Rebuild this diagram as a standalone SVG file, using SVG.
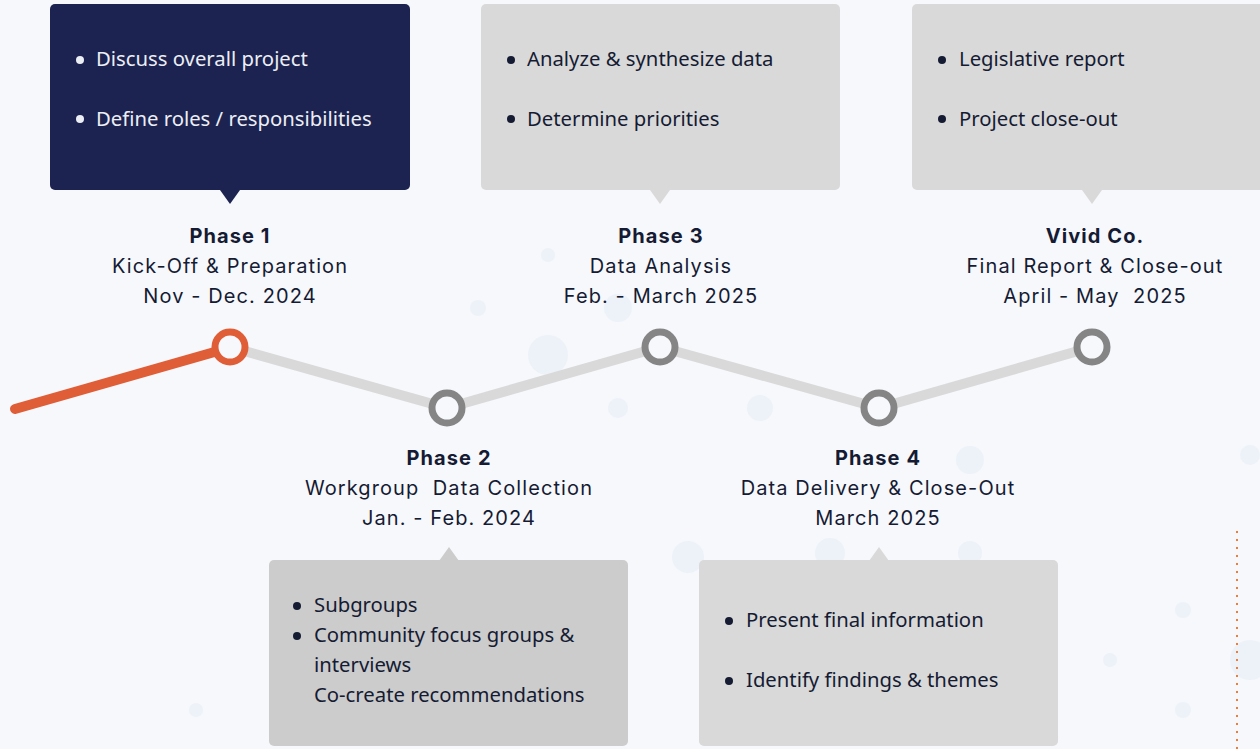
<svg xmlns="http://www.w3.org/2000/svg" width="1260" height="749" viewBox="0 0 1260 749">
<style>
.box-dark{fill:#1c2350}
.box-light{fill:#d9d9d9}
.box-mid{fill:#cccccc}
.bt{font-family:"Noto Sans","Liberation Sans",sans-serif;font-size:20.3px;fill:#151b33}
.bt-w{font-family:"Noto Sans","Liberation Sans",sans-serif;font-size:20.3px;fill:#eceef5}
.h{font-family:Inter,"Liberation Sans",sans-serif;font-size:20px;font-weight:700;fill:#151b33;text-anchor:middle;letter-spacing:1.1px}
.s{font-family:Inter,"Liberation Sans",sans-serif;font-size:20px;fill:#151b33;text-anchor:middle;letter-spacing:1.1px}
.node{fill:#f7f8fc;stroke:#858585;stroke-width:7}
.bub{fill:#e8eff8;opacity:0.7}
</style>
<rect width="1260" height="749" fill="#f7f8fc"/>
<g id="bubbles">
<circle class="bub" cx="548" cy="355" r="20"/>
<circle class="bub" cx="618" cy="408" r="10"/>
<circle class="bub" cx="760" cy="408" r="13"/>
<circle class="bub" cx="970" cy="460" r="14"/>
<circle class="bub" cx="688" cy="557" r="16"/>
<circle class="bub" cx="830" cy="553" r="15"/>
<circle class="bub" cx="478" cy="308" r="8"/>
<circle class="bub" cx="618" cy="308" r="14"/>
<circle class="bub" cx="548" cy="255" r="7"/>
<circle class="bub" cx="1250" cy="455" r="10"/>
<circle class="bub" cx="1183" cy="610" r="8"/>
<circle class="bub" cx="1250" cy="660" r="20"/>
<circle class="bub" cx="1183" cy="710" r="8"/>
<circle class="bub" cx="196" cy="710" r="7"/>
<circle class="bub" cx="970" cy="553" r="12"/>
<circle class="bub" cx="1110" cy="660" r="7"/>
</g>
<g id="connectors">
<polyline points="230,347 447,408 660,347 879,408 1092,347" fill="none" stroke="#d9d9d9" stroke-width="10" stroke-linejoin="round"/>
<line x1="15" y1="409" x2="225" y2="349" stroke="#e05e37" stroke-width="10" stroke-linecap="round"/>
<line x1="1237" y1="531" x2="1237" y2="749" stroke="#f07b3a" stroke-width="2" stroke-dasharray="2 6"/>
</g>
<g id="box1">
<rect class="box-dark" x="50" y="4" width="360" height="186" rx="5"/>
<polygon class="box-dark" points="220,190 240,190 230,204"/>
<circle cx="80" cy="60" r="4" fill="#eceef5"/>
<text class="bt-w" x="96" y="66">Discuss overall project</text>
<circle cx="80" cy="119" r="4" fill="#eceef5"/>
<text class="bt-w" x="96" y="126">Define roles / responsibilities</text>
</g>
<g id="box3">
<rect class="box-light" x="481" y="4" width="359" height="186" rx="5"/>
<polygon class="box-light" points="650,190 670,190 660,204"/>
<circle cx="511" cy="60" r="4" fill="#151b33"/>
<text class="bt" x="527" y="66">Analyze &amp; synthesize data</text>
<circle cx="511" cy="119" r="4" fill="#151b33"/>
<text class="bt" x="527" y="126">Determine priorities</text>
</g>
<g id="box5">
<rect class="box-light" x="912" y="4" width="360" height="186" rx="5"/>
<polygon class="box-light" points="1082,190 1102,190 1092,204"/>
<circle cx="942" cy="60" r="4" fill="#151b33"/>
<text class="bt" x="959" y="66">Legislative report</text>
<circle cx="942" cy="119" r="4" fill="#151b33"/>
<text class="bt" x="959" y="126">Project close-out</text>
</g>
<g id="box2">
<rect class="box-mid" x="269" y="560" width="359" height="186" rx="5"/>
<polygon class="box-mid" points="439,561 459,561 449,547"/>
<circle cx="297" cy="606" r="4" fill="#151b33"/>
<text class="bt" x="314" y="612">Subgroups</text>
<circle cx="297" cy="636" r="4" fill="#151b33"/>
<text class="bt" x="314" y="642">Community focus groups &amp;</text>
<text class="bt" x="314" y="672">interviews</text>
<text class="bt" x="314" y="702">Co-create recommendations</text>
</g>
<g id="box4">
<rect class="box-light" x="699" y="560" width="359" height="186" rx="5"/>
<polygon class="box-light" points="869,561 889,561 879,547"/>
<circle cx="729" cy="621" r="4" fill="#151b33"/>
<text class="bt" x="746" y="627">Present final information</text>
<circle cx="729" cy="681" r="4" fill="#151b33"/>
<text class="bt" x="746" y="687">Identify findings &amp; themes</text>
</g>
<g id="phase1">
<circle cx="230" cy="347" r="15" fill="#f7f8fc" stroke="#e05e37" stroke-width="7"/>
<text class="h" x="230" y="243">Phase 1</text>
<text class="s" x="230" y="273">Kick-Off &amp; Preparation</text>
<text class="s" x="230" y="303">Nov - Dec. 2024</text>
</g>
<g id="phase2">
<circle class="node" cx="447" cy="408" r="15"/>
<text class="h" x="449" y="465">Phase 2</text>
<text class="s" x="449" y="495" xml:space="preserve">Workgroup  Data Collection</text>
<text class="s" x="449" y="525">Jan. - Feb. 2024</text>
</g>
<g id="phase3">
<circle class="node" cx="660" cy="347" r="15"/>
<text class="h" x="661" y="243">Phase 3</text>
<text class="s" x="661" y="273">Data Analysis</text>
<text class="s" x="661" y="303">Feb. - March 2025</text>
</g>
<g id="phase4">
<circle class="node" cx="879" cy="408" r="15"/>
<text class="h" x="878" y="465">Phase 4</text>
<text class="s" x="878" y="495">Data Delivery &amp; Close-Out</text>
<text class="s" x="878" y="525">March 2025</text>
</g>
<g id="phase5">
<circle class="node" cx="1092" cy="347" r="15"/>
<text class="h" x="1095" y="243">Vivid Co.</text>
<text class="s" x="1095" y="273">Final Report &amp; Close-out</text>
<text class="s" x="1095" y="303" xml:space="preserve">April - May  2025</text>
</g>
</svg>
